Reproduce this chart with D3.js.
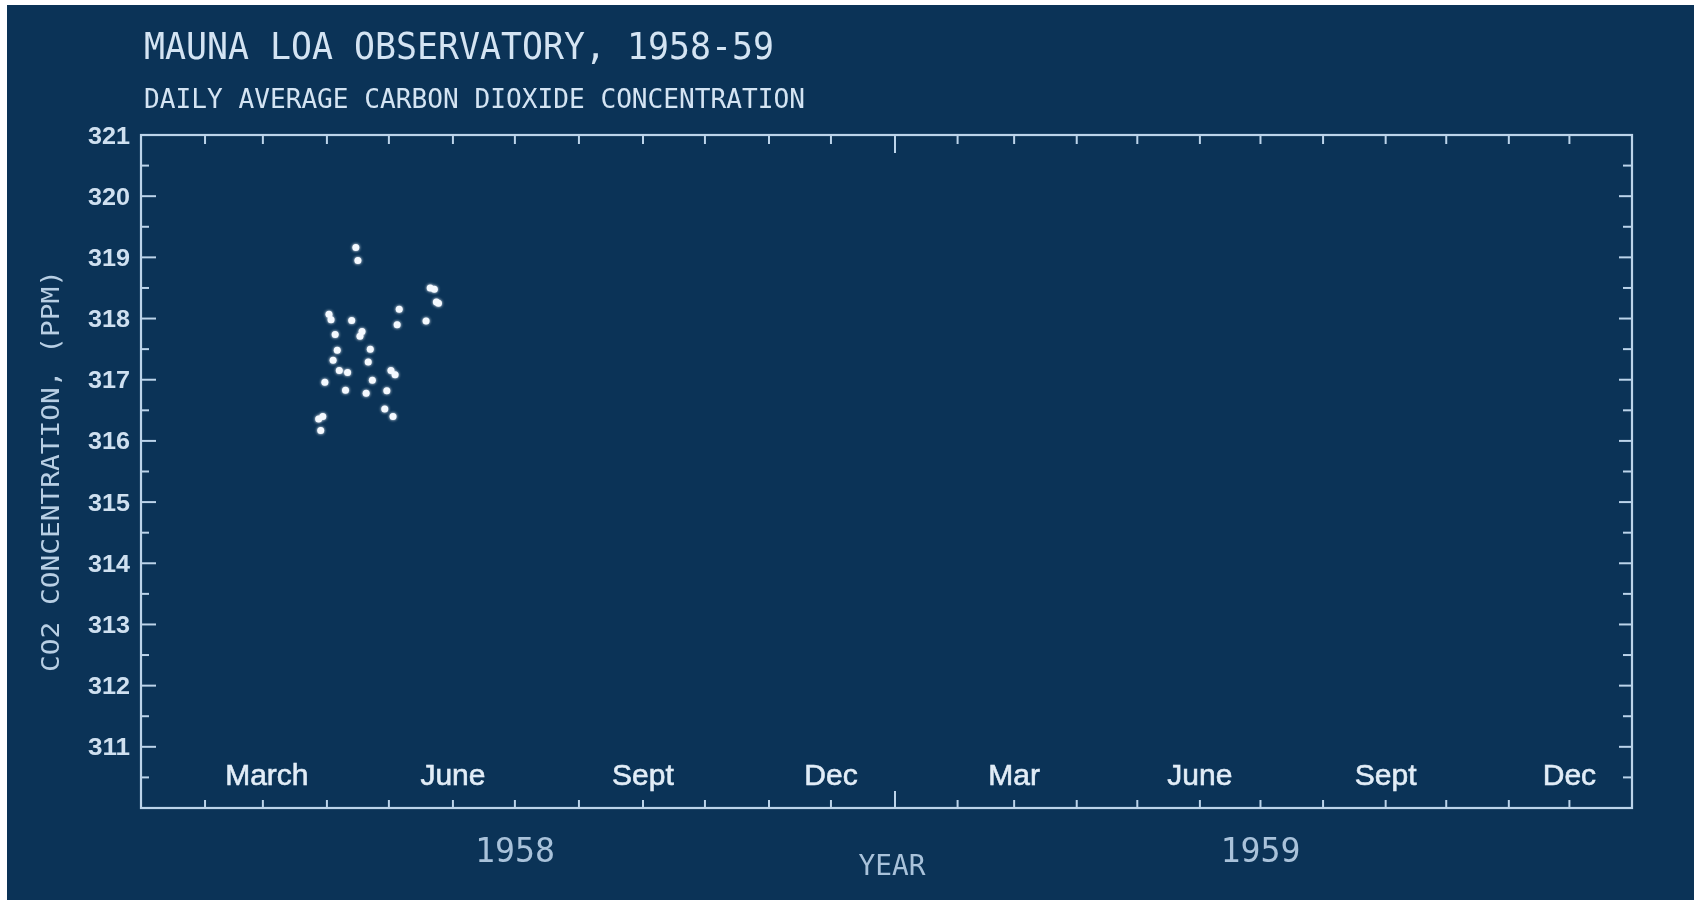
<!DOCTYPE html>
<html>
<head>
<meta charset="utf-8">
<script src="https://cdn.jsdelivr.net/npm/d3@7"></script>
<style>
  html, body { margin: 0; padding: 0; background: #ffffff; overflow: hidden; }
  svg { display: block; }
</style>
</head>
<body>
<svg id="chart" width="1694" height="900"></svg>
<script>
// ---- data ----
const dates = ["1958-03-28","1958-03-29","1958-03-30","1958-03-31","1958-04-02","1958-04-03",
  "1958-04-04","1958-04-05","1958-04-06","1958-04-07","1958-04-10","1958-04-11","1958-04-13",
  "1958-04-15","1958-04-16","1958-04-17","1958-04-18","1958-04-20","1958-04-21","1958-04-22",
  "1958-04-23","1958-04-29","1958-04-30","1958-05-02","1958-05-03","1958-05-04","1958-05-05",
  "1958-05-06","1958-05-19","1958-05-21","1958-05-23","1958-05-24","1958-05-25"];
const co2 = [316.36,316.17,316.40,316.96,318.07,317.98,
  317.32,317.74,317.48,317.15,316.83,317.12,317.97,
  319.16,318.95,317.71,317.79,316.78,317.29,317.50,
  316.99,316.52,316.82,317.15,316.40,317.08,317.90,
  318.15,317.96,318.50,318.48,318.27,318.25];
const monthLabels = ["March","June","Sept","Dec","Mar","June","Sept","Dec"];
const monthLabelDates = ["1958-03-01","1958-06-01","1958-09-01","1958-12-01",
  "1959-03-01","1959-06-01","1959-09-01","1959-12-01"];
const yearLabels = ["1958","1959"];
const yearLabelDates = ["1958-07-01","1959-07-01"];
const yTickValues = [311,312,313,314,315,316,317,318,319,320,321];
const titleText = "MAUNA LOA OBSERVATORY, 1958-59";
const subtitleText = "DAILY AVERAGE CARBON DIOXIDE CONCENTRATION";
const yTitle = "CO2 CONCENTRATION, (PPM)";
const xTitle = "YEAR";

(function () {
const parse = d3.timeParse("%Y-%m-%d");
const svg = d3.select("#chart");
const W = 1694, H = 900;
const bg = "#0b3357";
const lineCol = "#bcd4ea";
const textCol = "#cfe0f0";

svg.append("rect").attr("x", 7).attr("y", 5).attr("width", W - 7).attr("height", H - 5).attr("fill", bg);

const defs = svg.append("defs");
const soft = defs.append("filter").attr("id", "soft").attr("x", "-5%").attr("y", "-5%").attr("width", "110%").attr("height", "110%");
soft.append("feGaussianBlur").attr("stdDeviation", 0.6);
const dotGlow = defs.append("filter").attr("id", "dotglow").attr("x", "-100%").attr("y", "-100%").attr("width", "300%").attr("height", "300%");
dotGlow.append("feGaussianBlur").attr("in", "SourceGraphic").attr("stdDeviation", 1.8).attr("result", "b");
const mg = dotGlow.append("feMerge");
mg.append("feMergeNode").attr("in", "b");
mg.append("feMergeNode").attr("in", "SourceGraphic");

const pLeft = 141, pRight = 1632, pTop = 135, pBottom = 808;
const x = d3.scaleTime()
  .domain([new Date(1958, 0, 1), new Date(1959, 0, 1), new Date(1960, 0, 1)])
  .range([pLeft, 895, pRight]);
const y = d3.scaleLinear().domain([310, 321]).range([pBottom, pTop]);

const g = svg.append("g").attr("filter", "url(#soft)");

// frame
g.append("rect").attr("x", pLeft).attr("y", pTop).attr("width", pRight - pLeft).attr("height", pBottom - pTop)
  .attr("fill", "none").attr("stroke", lineCol).attr("stroke-width", 2.2);

// month ticks (top & bottom)
const months = d3.timeMonth.range(new Date(1958, 1, 1), new Date(1960, 0, 1));
const isYear = d => d.getMonth() === 0;
g.append("g").selectAll("line").data(months).join("line")
  .attr("x1", d => x(d)).attr("x2", d => x(d))
  .attr("y1", pBottom).attr("y2", d => pBottom - (isYear(d) ? 17 : 8))
  .attr("stroke", lineCol).attr("stroke-width", 2);
g.append("g").selectAll("line").data(months).join("line")
  .attr("x1", d => x(d)).attr("x2", d => x(d))
  .attr("y1", pTop).attr("y2", d => pTop + (isYear(d) ? 18 : 9))
  .attr("stroke", lineCol).attr("stroke-width", 2);

// y ticks left and right (half units)
const halfTicks = d3.range(310.5, 321, 0.5);
const isMajor = v => Math.abs(v - Math.round(v)) < 1e-6;
g.append("g").selectAll("line").data(halfTicks).join("line")
  .attr("x1", pLeft).attr("x2", d => pLeft + (isMajor(d) ? 15 : 8))
  .attr("y1", d => y(d)).attr("y2", d => y(d))
  .attr("stroke", lineCol).attr("stroke-width", 2);
g.append("g").selectAll("line").data(halfTicks).join("line")
  .attr("x1", pRight).attr("x2", d => pRight - (isMajor(d) ? 13 : 9))
  .attr("y1", d => y(d)).attr("y2", d => y(d))
  .attr("stroke", lineCol).attr("stroke-width", 2);

// y tick labels
g.append("g").selectAll("text").data(yTickValues).join("text")
  .attr("x", 130).attr("y", d => y(d))
  .attr("text-anchor", "end").attr("dominant-baseline", "central")
  .attr("font-family", "Liberation Sans, Arial, sans-serif").attr("font-weight", "bold")
  .attr("font-size", 24).attr("fill", textCol)
  .attr("textLength", 42).attr("lengthAdjust", "spacingAndGlyphs")
  .text(d => d);

// month labels
g.append("g").selectAll("text").data(monthLabels).join("text")
  .attr("x", (d, i) => x(parse(monthLabelDates[i])) + (i === 0 ? 4 : 0))
  .attr("y", 785)
  .attr("text-anchor", "middle")
  .attr("font-family", "Liberation Sans, Arial, sans-serif")
  .attr("font-size", 30).attr("fill", "#e2edf7")
  .attr("stroke", "#e2edf7").attr("stroke-width", 0.6)
  .text(d => d);

// year labels
g.append("g").selectAll("text").data(yearLabels).join("text")
  .attr("x", (d, i) => x(parse(yearLabelDates[i])))
  .attr("y", 862)
  .attr("text-anchor", "middle")
  .attr("font-family", "DejaVu Sans Mono, monospace")
  .attr("font-size", 34).attr("fill", "#a9c2da")
  .attr("textLength", 80).attr("lengthAdjust", "spacingAndGlyphs")
  .text(d => d);

// x title
g.append("text").attr("x", 892).attr("y", 875).attr("text-anchor", "middle")
  .attr("font-family", "DejaVu Sans Mono, monospace").attr("font-size", 28)
  .attr("fill", "#a9c2da").attr("textLength", 67).attr("lengthAdjust", "spacingAndGlyphs")
  .text(xTitle);

// titles
g.append("text").attr("x", 144).attr("y", 59)
  .attr("font-family", "DejaVu Sans Mono, monospace").attr("font-size", 37)
  .attr("fill", "#d4e4f3").attr("textLength", 630).attr("lengthAdjust", "spacingAndGlyphs")
  .text(titleText);
g.append("text").attr("x", 144).attr("y", 108)
  .attr("font-family", "DejaVu Sans Mono, monospace").attr("font-size", 26)
  .attr("fill", "#d4e4f3").attr("textLength", 661).attr("lengthAdjust", "spacingAndGlyphs")
  .text(subtitleText);

// y title
g.append("text")
  .attr("transform", "translate(59,471) rotate(-90)")
  .attr("text-anchor", "middle")
  .attr("font-family", "DejaVu Sans Mono, monospace").attr("font-size", 25)
  .attr("fill", "#b8cfe4").attr("textLength", 402).attr("lengthAdjust", "spacingAndGlyphs")
  .text(yTitle);

// data points
svg.append("g").attr("filter", "url(#dotglow)")
  .selectAll("circle").data(dates).join("circle")
  .attr("cx", d => x(parse(d)))
  .attr("cy", (d, i) => y(co2[i]))
  .attr("r", 3.5)
  .attr("fill", "#f4f9ff");
})();
</script>
</body>
</html>
